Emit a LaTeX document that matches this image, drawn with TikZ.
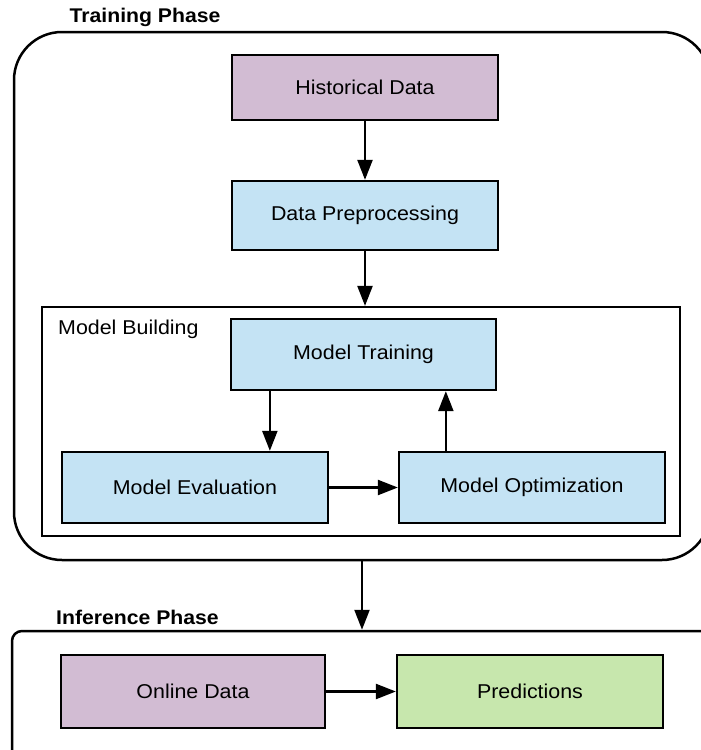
\documentclass[tikz,border=0pt]{standalone}
\usepackage{fontspec}
\setmainfont[FakeStretch=1.07]{Liberation Sans}
\usetikzlibrary{arrows.meta}

\definecolor{dataPurple}{HTML}{D2BCD3}
\definecolor{stepBlue}{HTML}{C4E3F4}
\definecolor{resultGreen}{HTML}{C7E7AD}

\tikzset{
  phasebox/.style={draw, line width=2.5pt, inner sep=0pt},
  groupbox/.style={draw, line width=2.2pt, inner sep=0pt},
  stepbox/.style={draw, line width=2.3pt, inner sep=0pt, fill=stepBlue,
    minimum width=266pt, minimum height=70pt, font=\fontsize{20}{24}\selectfont},
  datastep/.style={stepbox, fill=dataPurple},
  resultstep/.style={stepbox, fill=resultGreen},
  phasetitle/.style={font=\fontsize{19.8}{24}\selectfont\bfseries, inner sep=0pt},
  grouptitle/.style={font=\fontsize{20}{24}\selectfont, inner sep=0pt},
  arr/.style={line width=2.3pt, -{Triangle[length=20pt, width=15pt]}}
}

\begin{document}
\begin{tikzpicture}[x=1pt, y=-1pt]
\useasboundingbox (0,0) rectangle (701,750);
\clip (0,0) rectangle (701,750);

% phase frames
\node[phasebox, rounded corners=48pt, minimum width=696pt, minimum height=528pt] (tp) at (362,296) {};
\node[phasebox, rounded corners=10pt, minimum width=708pt, minimum height=139pt] (ip) at (366,700.5) {};
\node[phasetitle] (tptitle) at (145,17) {Training Phase};
\node[phasetitle, anchor=west] (iptitle) at (56,617) {Inference Phase};

% training steps
\node[datastep, minimum height=65pt] (hist) at (365,87.5) {Historical Data};
\node[stepbox, minimum height=69pt] (prep) at (365,215.5) {Data Preprocessing};

% model building group
\node[groupbox, minimum width=638pt, minimum height=229pt] (mb) at (361,421.5) {};
\node[grouptitle, anchor=west] (mbtitle) at (58,329) {Model Building};
\node[stepbox, minimum width=265pt, minimum height=71pt] (train) at (363.5,354.5) {Model Training};
\node[stepbox, minimum height=71pt] (eval) at (195,487.5) {Model Evaluation};
\node[stepbox, minimum height=71pt] (opt) at (532,487.5) {Model Optimization};

% inference steps
\node[datastep, minimum width=264pt, minimum height=73pt] (online) at (193,691.5) {Online Data};
\node[resultstep, minimum height=73pt] (pred) at (530,691.5) {Predictions};

% connectors
\draw[arr] (hist.south) -- (prep.north);
\draw[arr] (prep.south) -- (prep.south |- mb.north);
\draw[arr] ([xshift=40pt]train.south west) -- ([xshift=40pt]train.south west |- eval.north);
\draw[arr] (eval.east) -- (opt.west);
\draw[arr] ([xshift=48pt]opt.north west) -- ([xshift=48pt]opt.north west |- train.south);
\draw[arr] (tp.south) -- (tp.south |- ip.north);
\draw[arr] (online.east) -- (pred.west);
\end{tikzpicture}
\end{document}
